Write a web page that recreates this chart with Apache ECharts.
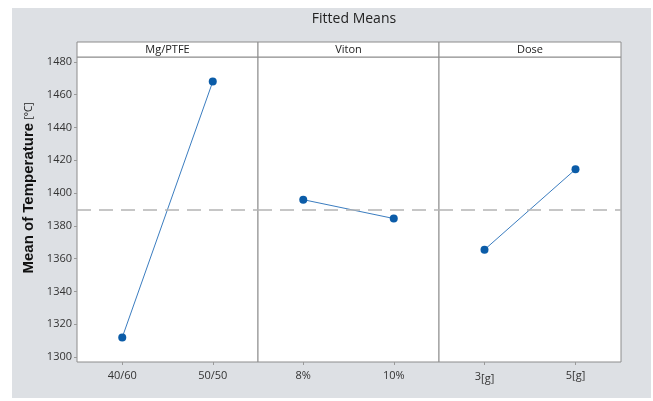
<!DOCTYPE html>
<html>
<head>
<meta charset="utf-8">
<script src="https://cdn.jsdelivr.net/npm/echarts@6/dist/echarts.min.js"></script>
<style>
  html, body { margin: 0; padding: 0; background: #fff; }
  #chart { width: 653px; height: 401px; }
</style>
</head>
<body>
<div id="chart"></div>
<script>
// factor names and levels
const factors = ['Mg/PTFE', 'Viton', 'Dose'];
const levels = [['40/60', '50/50'], ['8%', '10%'], ['3[g]', '5[g]']];
// fitted means
const means = [[1312, 1468], [1396, 1384.5], [1365.5, 1414.5]];
const grandMean = 1390;
const yTicks = [1300, 1320, 1340, 1360, 1380, 1400, 1420, 1440, 1460, 1480];

const chart = echarts.init(document.getElementById('chart'));

// panel layout
const plotLeft = 77, plotTop = 57, plotBottom = 362;
const panelW = [181, 181, 182];
const lefts = [plotLeft, plotLeft + panelW[0], plotLeft + panelW[0] + panelW[1]];
const font = '"Open Sans", sans-serif';

const grids = [], xAxes = [], yAxes = [], series = [], graphics = [];

// gray backdrop
graphics.push({
  type: 'rect', z: -10,
  shape: { x: 12, y: 8, width: 639, height: 390 },
  style: { fill: '#dde0e4' }
});

factors.forEach((f, i) => {
  grids.push({
    left: lefts[i], top: plotTop, width: panelW[i], height: plotBottom - plotTop,
    show: true, backgroundColor: '#fff', borderColor: '#8c8c8c', borderWidth: 1
  });
  xAxes.push({
    type: 'category', gridIndex: i, data: levels[i], boundaryGap: true,
    axisLine: { show: false },
    axisTick: { show: true, alignWithLabel: true, length: 3, lineStyle: { color: '#999' } },
    axisLabel: {
      color: '#333', fontSize: 11, fontFamily: font, margin: 8,
      formatter: (v) => v === '3[g]' ? '3{sub|[g]}' : v,
      rich: { sub: { fontSize: 11, fontFamily: font, color: '#333', padding: [3, 0, 0, 0] } }
    }
  });
  yAxes.push({
    type: 'value', gridIndex: i, min: 1297, max: 1483,
    splitLine: { show: false },
    axisLine: { show: false },
    axisTick: { show: i === 0, length: 3, customValues: yTicks, lineStyle: { color: '#999' } },
    axisLabel: {
      show: i === 0, customValues: yTicks, color: '#333', fontSize: 11, fontFamily: font, margin: 5,
      formatter: (v) => String(v)
    }
  });
  series.push({
    type: 'line', xAxisIndex: i, yAxisIndex: i, data: means[i],
    symbol: 'circle', symbolSize: 8,
    itemStyle: { color: '#0b5ca8' },
    lineStyle: { color: '#3b7dc0', width: 1 },
    markLine: {
      silent: true, symbol: 'none', label: { show: false },
      lineStyle: { color: '#b4b4b4', type: [14, 8], width: 1.5 },
      data: [{ yAxis: grandMean }]
    },
    z: 3
  });
  // strip header
  graphics.push({
    type: 'rect',
    shape: { x: lefts[i], y: 42, width: panelW[i], height: 15 },
    style: { fill: '#fff', stroke: '#8c8c8c', lineWidth: 1 }
  });
  graphics.push({
    type: 'text', x: lefts[i] + panelW[i] / 2, y: 49.5,
    style: { text: f, fill: '#222', font: '11px ' + font, textAlign: 'center', textVerticalAlign: 'middle' }
  });
});

// y axis name
graphics.push({
  type: 'text', x: 29, y: 188, rotation: Math.PI / 2,
  style: {
    text: '{b|Mean of Temperature} {s|[°C]}',
    textAlign: 'center', textVerticalAlign: 'middle',
    rich: {
      b: { fontSize: 15, fontWeight: 'bold', fontFamily: '"Liberation Sans", Arial, sans-serif', fill: '#111' },
      s: { fontSize: 10, fontFamily: font, fill: '#222' }
    }
  }
});

chart.setOption({
  animation: false,
  title: {
    text: 'Fitted Means', left: 349, top: 7, textAlign: 'center',
    textStyle: { fontSize: 14, fontWeight: 'normal', fontFamily: font, color: '#222' }
  },
  grid: grids, xAxis: xAxes, yAxis: yAxes, series: series,
  graphic: graphics
});
</script>
</body>
</html>
